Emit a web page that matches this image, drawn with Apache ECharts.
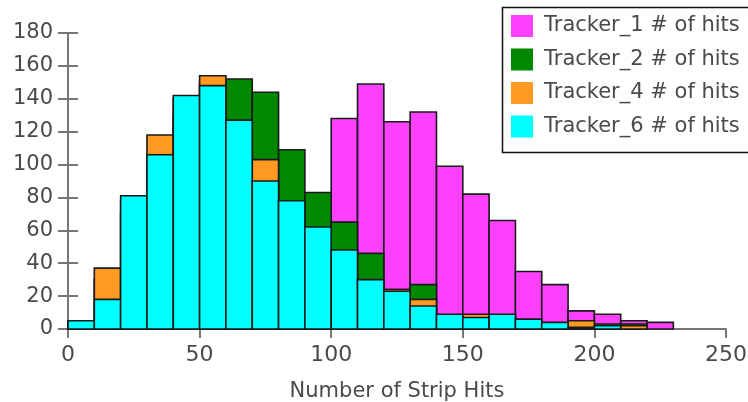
<!DOCTYPE html>
<html>
<head>
<meta charset="utf-8">
<script src="https://cdn.jsdelivr.net/npm/echarts@6/dist/echarts.min.js"></script>
<style>html,body{margin:0;padding:0;background:#fff}#c{width:748px;height:402px}</style>
</head>
<body>
<div id="c"></div>
<script>
// Histogram bins (Number of Strip Hits)
var binLow  = [0, 10, 20, 30, 40, 50, 60, 70, 80, 90, 100, 110, 120, 130, 140, 150, 160, 170, 180, 190, 200, 210, 220];
var binHigh = [10, 20, 30, 40, 50, 60, 70, 80, 90, 100, 110, 120, 130, 140, 150, 160, 170, 180, 190, 200, 210, 220, 230];

var seriesNames = ['Tracker_1 # of hits', 'Tracker_2 # of hits', 'Tracker_4 # of hits', 'Tracker_6 # of hits'];
var tracker1 = [3, 4, 10, 20, 30, 40, 50, 60, 60, 60, 128, 149, 126, 132, 99, 82, 66, 35, 27, 11, 9, 5, 4];
var tracker2 = [5, 30, 70, 100, 130, 150, 152, 144, 109, 83, 65, 46, 24, 27, 8, 6, 5, 3, 2, 1, 3, 3, 0];
var tracker4 = [5, 37, 78, 118, 140, 154, 120, 103, 76, 58, 46, 29, 24, 18, 8, 9, 8, 5, 3, 5, 2, 2, 0];
var tracker6 = [5, 18, 81, 106, 142, 148, 127, 90, 78, 62, 48, 30, 23, 14, 9, 7, 9, 6, 4, 1, 2, 0, 0];

var yTicks = [0, 20, 40, 60, 80, 100, 120, 140, 160, 180];
var xTicks = [0, 50, 100, 150, 200, 250];

var colors = ['#ff40ff', '#008800', '#ff9922', '#00ffff'];
var allValues = [tracker1, tracker2, tracker4, tracker6];

var FONT = 'DejaVu Sans';
var TXT = '#4a4a4a';

function makeSeries(idx) {
  var vals = allValues[idx];
  var data = [];
  for (var i = 0; i < binLow.length; i++) {
    data.push([binLow[i], binHigh[i], vals[i]]);
  }
  return {
    type: 'custom',
    name: seriesNames[idx],
    z: 2 + idx,
    itemStyle: { color: colors[idx] },
    encode: { x: [0, 1], y: 2 },
    renderItem: function (params, api) {
      var v = api.value(2);
      if (!v) return null;
      var p0 = api.coord([api.value(0), v]);
      var p1 = api.coord([api.value(1), 0]);
      return {
        type: 'rect',
        shape: { x: p0[0], y: p0[1], width: p1[0] - p0[0], height: p1[1] - p0[1] },
        style: { fill: colors[idx], stroke: '#1a1a1a', lineWidth: 1.6 }
      };
    },
    data: data
  };
}

var chart = echarts.init(document.getElementById('c'), null, { renderer: 'canvas' });
chart.setOption({
  animation: false,
  backgroundColor: '#fff',
  grid: { left: 68, right: 22, top: 33, bottom: 73, containLabel: false, outerBoundsMode: 'none' },
  graphic: [{
    type: 'rect',
    z: 1,
    silent: true,
    shape: { x: 502, y: 7, width: 260, height: 146 },
    style: { fill: '#fff', stroke: null }
  }, {
    type: 'polyline',
    z: 2,
    silent: true,
    shape: { points: [[800, 7.5], [502.5, 7.5], [502.5, 152.5], [800, 152.5]] },
    style: { fill: null, stroke: '#111', lineWidth: 1.5 }
  }],
  legend: {
    data: seriesNames.map(function (n, i) { return { name: n, icon: 'rect', itemStyle: { color: colors[i], borderWidth: 0 } }; }),
    orient: 'vertical',
    left: 502,
    top: 7,
    padding: [8, 0, 14, 9],
    itemWidth: 22,
    itemHeight: 22,
    itemGap: 11.5,
    z: 10,
    textStyle: { fontFamily: FONT, fontSize: 21, color: TXT, padding: [0, 0, 0, 6] },
    selectedMode: false
  },
  xAxis: {
    type: 'value',
    min: xTicks[0],
    max: xTicks[xTicks.length - 1],
    interval: 50,
    name: 'Number of Strip Hits',
    nameLocation: 'middle',
    nameGap: 52,
    nameTextStyle: { fontFamily: FONT, fontSize: 21, color: TXT },
    axisLine: { show: true, lineStyle: { color: '#777', width: 2 } },
    axisTick: { show: true, length: 9, lineStyle: { color: '#777', width: 2 } },
    axisLabel: { fontFamily: FONT, fontSize: 22, color: TXT, margin: 15 },
    splitLine: { show: false }
  },
  yAxis: [{
    type: 'value',
    position: 'left',
    min: yTicks[0],
    max: yTicks[yTicks.length - 1],
    interval: 20,
    axisLine: { show: true, lineStyle: { color: '#777', width: 2 } },
    axisTick: { show: true, length: 10, lineStyle: { color: '#777', width: 2 } },
    axisLabel: { fontFamily: FONT, fontSize: 21, color: TXT, margin: 15 },
    splitLine: { show: false }
  }, {
    type: 'value',
    position: 'left',
    min: yTicks[0],
    max: yTicks[yTicks.length - 1],
    interval: 20,
    axisLine: { show: false },
    axisTick: { show: true, inside: true, length: 10, lineStyle: { color: '#777', width: 2 } },
    axisLabel: { show: false },
    splitLine: { show: false }
  }],
  series: [makeSeries(0), makeSeries(1), makeSeries(2), makeSeries(3)]
});
</script>
</body>
</html>
